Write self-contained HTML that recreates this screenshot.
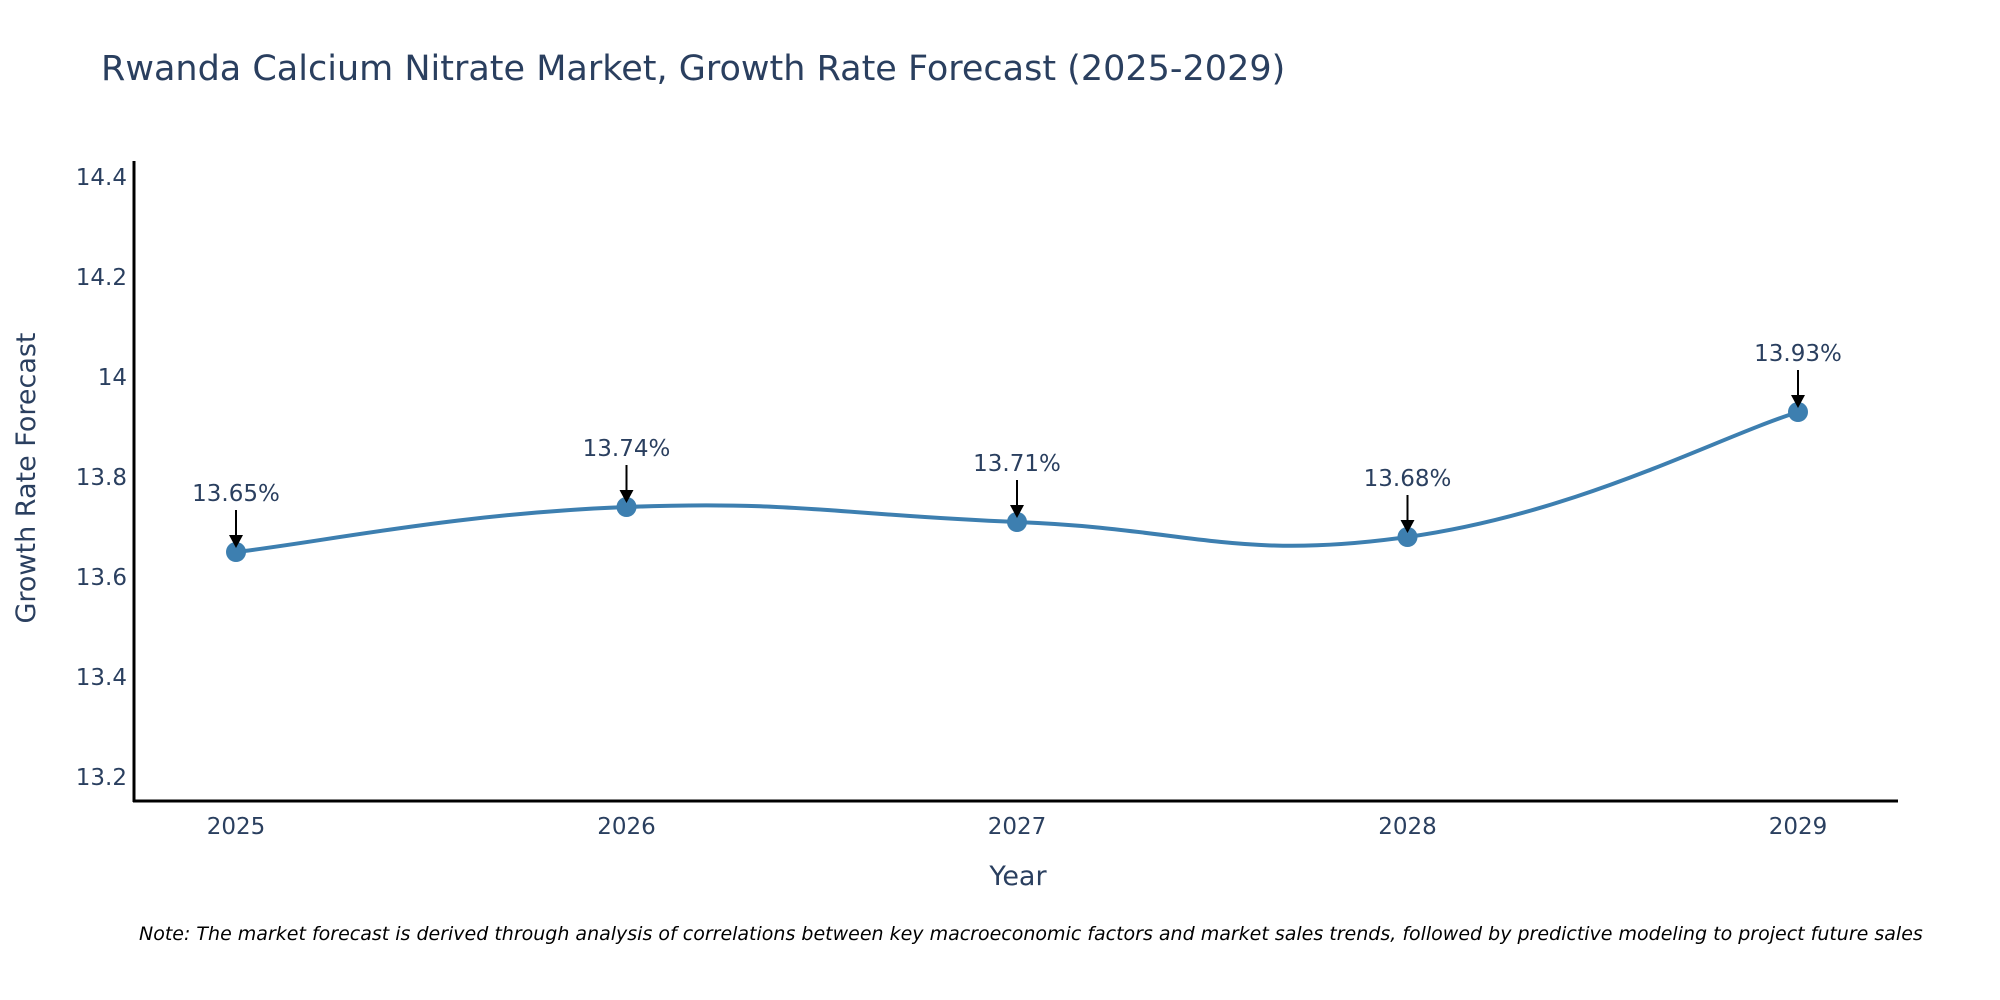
<!DOCTYPE html>
<html><head><meta charset="utf-8"><style>
body{margin:0;background:#fff}
svg{display:block;font-family:"DejaVu Sans","Liberation Sans",sans-serif}
</style></head><body>
<svg id="chart" width="2000" height="1000" viewBox="0 0 2000 1000">
<text x="101" y="80" font-size="35" fill="#2a3f5f">Rwanda Calcium Nitrate Market, Growth Rate Forecast (2025-2029)</text>
<g id="yticks"></g>
<g id="xticks"></g>
<line x1="134" y1="161" x2="134" y2="802" stroke="#000" stroke-width="3"/>
<line x1="133" y1="801" x2="1898" y2="801" stroke="#000" stroke-width="3"/>
<path id="line" fill="none" stroke="#3d7fb0" stroke-width="4"/>
<g id="points"></g>
<g id="annots"></g>
<text x="1018" y="885" font-size="27" fill="#2a3f5f" text-anchor="middle">Year</text>
<text transform="translate(35,478) rotate(-90)" font-size="27" fill="#2a3f5f" text-anchor="middle">Growth Rate Forecast</text>
<text x="139" y="940" font-size="19" font-style="italic" fill="#000">Note: The market forecast is derived through analysis of correlations between key macroeconomic factors and market sales trends, followed by predictive modeling to project future sales</text>
</svg>
<script>
const years = ["2025","2026","2027","2028","2029"];
const values = [13.65, 13.74, 13.71, 13.68, 13.93];
const yTicks = [13.2, 13.4, 13.6, 13.8, 14, 14.2, 14.4];
const yTickLabels = ["13.2","13.4","13.6","13.8","14","14.2","14.4"];

const NS="http://www.w3.org/2000/svg";
function xs(i){return 236 + i*(1798-236)/(years.length-1);}
function ys(v){return 177 + (14.4-v)/1.2*600;}
function mk(t,attrs,parent){const e=document.createElementNS(NS,t);for(const k in attrs)e.setAttribute(k,attrs[k]);parent.appendChild(e);return e;}

const yt=document.getElementById('yticks');
yTicks.forEach((v,i)=>{
  const t=mk('text',{x:127,y:ys(v)+8,'font-size':23,fill:'#2a3f5f','text-anchor':'end'},yt);
  
  
  t.textContent=yTickLabels[i];
});
const xt=document.getElementById('xticks');
years.forEach((y,i)=>{
  const t=mk('text',{x:xs(i),y:834,'font-size':23,fill:'#2a3f5f','text-anchor':'middle'},xt);
  
  
  t.textContent=y;
});

const P=values.map((v,i)=>[xs(i),ys(v)]);
let d=`M${P[0][0]},${P[0][1]}`;
const s=0.22;
for(let i=0;i<P.length-1;i++){
  const p0=P[Math.max(0,i-1)],p1=P[i],p2=P[i+1],p3=P[Math.min(P.length-1,i+2)];
  const c1=[p1[0]+(p2[0]-p0[0])*s,p1[1]+(p2[1]-p0[1])*s];
  const c2=[p2[0]-(p3[0]-p1[0])*s,p2[1]-(p3[1]-p1[1])*s];
  d+=` C${c1[0]},${c1[1]} ${c2[0]},${c2[1]} ${p2[0]},${p2[1]}`;
}
document.getElementById('line').setAttribute('d',d);

const pts=document.getElementById('points'),an=document.getElementById('annots');
P.forEach((p,i)=>{
  const c=mk('circle',{cx:p[0],cy:p[1],r:10,fill:'#3d7fb0'},pts);
  
  
  const l=mk('line',{x1:p[0],y1:p[1]-42,x2:p[0],y2:p[1]-14,stroke:'#000','stroke-width':2},an);
  
  
  const h=mk('path',{d:`M${p[0]-7},${p[1]-17} L${p[0]+7},${p[1]-17} L${p[0]},${p[1]-4} Z`,fill:'#000'},an);
  
  
  const t=mk('text',{x:p[0],y:p[1]-51,'font-size':23,fill:'#2a3f5f','text-anchor':'middle'},an);
  
  
  t.textContent=values[i].toFixed(2)+'%';
});
</script>
</body></html>
